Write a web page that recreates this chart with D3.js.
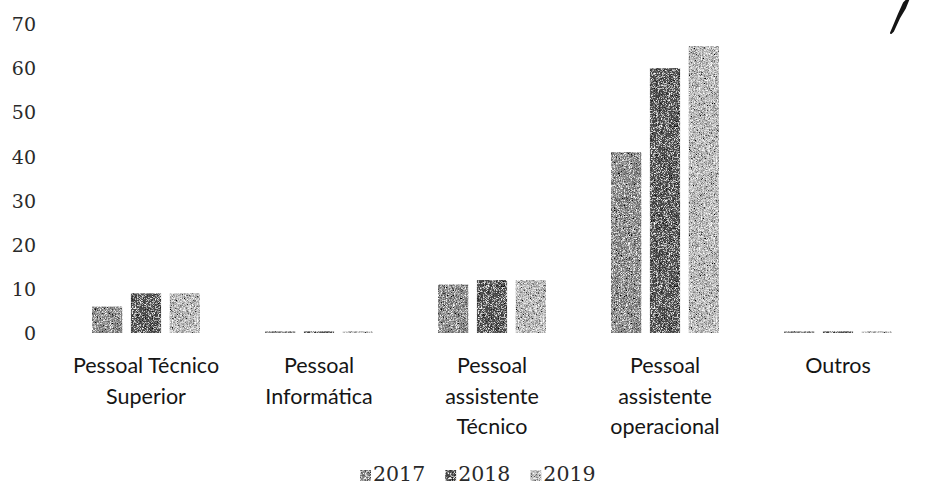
<!DOCTYPE html>
<html>
<head>
<meta charset="utf-8">
<script src="https://cdn.jsdelivr.net/npm/d3@7"></script>
<style>
  html, body { margin: 0; padding: 0; background: #fff; }
  svg { display: block; }
</style>
</head>
<body>
<svg id="chart" width="947" height="486"></svg>
<script>
// Staff numbers by category, 2017–2019
const categories = [
  ["Pessoal Técnico", "Superior"],
  ["Pessoal", "Informática"],
  ["Pessoal", "assistente", "Técnico"],
  ["Pessoal", "assistente", "operacional"],
  ["Outros"]
];
const years = ["2017", "2018", "2019"];
const values2017 = [6, 0.4, 11, 41, 0.4];
const values2018 = [9, 0.4, 12, 60, 0.4];
const values2019 = [9, 0.4, 12, 65, 0.4];
const yTicks = [0, 10, 20, 30, 40, 50, 60, 70];

const seriesValues = { "2017": values2017, "2018": values2018, "2019": values2019 };
const colors = { "2017": "#8e8e8e", "2018": "#545454", "2019": "#bdbdbd" };

const svg = d3.select("#chart");

// Fine speckle texture applied to bars and legend swatches
const defs = svg.append("defs");
const grain = defs.append("filter").attr("id", "grain")
  .attr("x", "0").attr("y", "0").attr("width", "100%").attr("height", "100%");
grain.append("feTurbulence").attr("type", "fractalNoise")
  .attr("baseFrequency", "1.6").attr("numOctaves", 1).attr("seed", 7).attr("result", "noise");
grain.append("feColorMatrix").attr("in", "noise").attr("type", "saturate").attr("values", 0).attr("result", "gray");
const ct = grain.append("feComponentTransfer").attr("in", "gray").attr("result", "contrast");
["feFuncR", "feFuncG", "feFuncB"].forEach(f =>
  ct.append(f).attr("type", "linear").attr("slope", 2.6).attr("intercept", -0.8));
ct.append("feFuncA").attr("type", "linear").attr("slope", 0).attr("intercept", 1);
grain.append("feBlend").attr("in", "SourceGraphic").attr("in2", "contrast").attr("mode", "overlay").attr("result", "mix");
grain.append("feComposite").attr("in", "mix").attr("in2", "SourceGraphic").attr("operator", "in");

const y = d3.scaleLinear().domain([0, 70]).range([333, 24]);
const x0 = d3.scaleBand().domain(d3.range(categories.length)).range([59.5, 924.5]).padding(0);
const x1 = d3.scaleBand().domain(years).range([0, x0.bandwidth()])
  .paddingInner(0.22).paddingOuter(0.837);

// Y axis: labels only, no line or ticks
const yAxis = d3.axisLeft(y).tickValues(yTicks).tickSize(0).tickPadding(0).tickFormat(d3.format("d"));
const gy = svg.append("g").attr("transform", "translate(36,0)").call(yAxis);
gy.select(".domain").remove();
gy.selectAll("text")
  .attr("font-family", "DejaVu Serif")
  .attr("font-size", 19)
  .attr("fill", "#2a2a2a")
  .attr("dy", "0.35em");

// Bars
const groups = svg.append("g").selectAll("g")
  .data(categories.map((c, i) => i))
  .join("g")
  .attr("transform", i => `translate(${x0(i)},0)`);

groups.selectAll("rect")
  .data(i => years.map(yr => ({ yr, v: seriesValues[yr][i] })))
  .join("rect")
  .attr("x", d => x1(d.yr))
  .attr("width", x1.bandwidth())
  .attr("y", d => y(d.v))
  .attr("height", d => y(0) - y(d.v))
  .attr("fill", d => colors[d.yr])
  .attr("filter", "url(#grain)");

// Category labels (multi-line)
const lineH = 30.5;
const labels = svg.append("g").selectAll("text")
  .data(categories.map((c, i) => ({ c, i })))
  .join("text")
  .attr("text-anchor", "middle")
  .attr("font-family", "Lato")
  .attr("font-size", 21.5)
  .attr("fill", "#151515")
  .attr("transform", d => `translate(${x0(d.i) + x0.bandwidth() / 2},373)`);
labels.selectAll("tspan")
  .data(d => d.c)
  .join("tspan")
  .attr("x", 0)
  .attr("y", (d, j) => j * lineH)
  .text(d => d);

// Legend
const legend = svg.append("g");
let lx = 360;
years.forEach(yr => {
  const item = legend.append("g").attr("transform", `translate(${lx},0)`);
  item.append("rect").attr("x", 0).attr("y", 470).attr("width", 11).attr("height", 11)
    .attr("fill", colors[yr]).attr("filter", "url(#grain)");
  const t = item.append("text").attr("x", 13).attr("y", 481)
    .attr("font-family", "DejaVu Serif").attr("font-size", 20.5).attr("fill", "#2a2a2a")
    .text(yr);
  lx += 13 + t.node().getComputedTextLength() + 20;
});

// Handwritten pen stroke in the top-right corner
svg.append("path")
  .attr("d", "M909,-2 L905,8 L899,18 L893,31 L891,33 L894,26 L899,14 L904,3 Z")
  .attr("fill", "#151515")
  .attr("stroke", "#151515")
  .attr("stroke-width", 2)
  .attr("stroke-linejoin", "round");
</script>
</body>
</html>
